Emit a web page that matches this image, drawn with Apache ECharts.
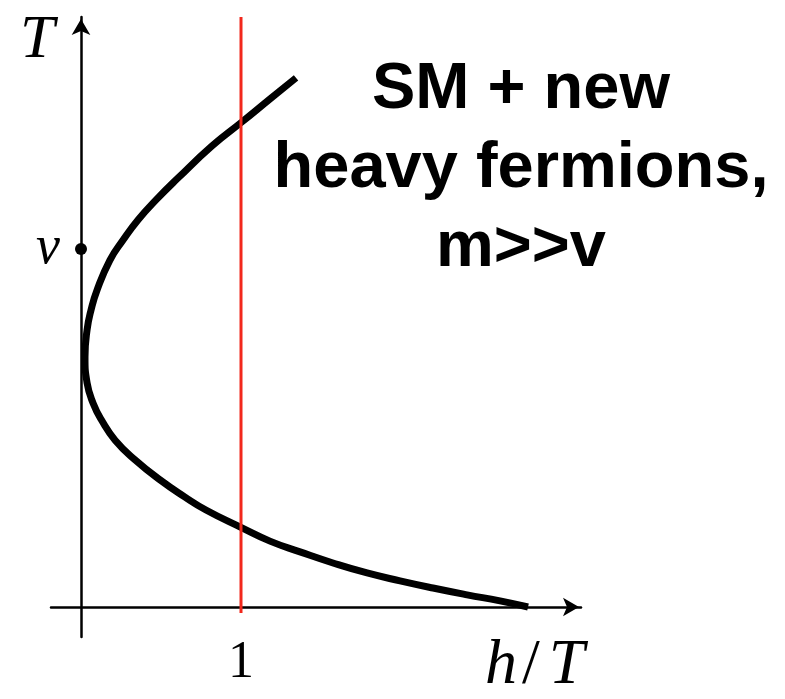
<!DOCTYPE html>
<html>
<head>
<meta charset="utf-8">
<script src="https://cdn.jsdelivr.net/npm/echarts@6/dist/echarts.min.js"></script>
<style>
  html, body { margin: 0; padding: 0; background: #ffffff; }
  #main { width: 785px; height: 699px; }
</style>
</head>
<body>
<div id="main"></div>
<script>
// Trajectory of the electroweak minimum: h/T against T (T in units of v)
const hOverT = [2.794, 2.619, 2.413, 2.200, 1.994, 1.788, 1.575, 1.369, 1.181, 1.006, 0.781, 0.650, 0.494, 0.338, 0.213, 0.131, 0.075, 0.038, 0.025, 0.038, 0.063, 0.100, 0.181, 0.263, 0.356, 0.469, 0.606, 0.819, 1.006, 1.181, 1.344];
const temperature = [0.000, 0.017, 0.034, 0.053, 0.073, 0.095, 0.123, 0.154, 0.184, 0.221, 0.271, 0.307, 0.355, 0.411, 0.466, 0.520, 0.570, 0.626, 0.698, 0.774, 0.830, 0.885, 0.969, 1.025, 1.081, 1.137, 1.198, 1.288, 1.355, 1.419, 1.478];

// Reference line h/T = 1 (strong first-order criterion)
const criterionH = [1, 1];
const criterionT = [-0.017, 1.648];

// Marked point on the T axis
const markedT = 1;
const xTickValues = [1];
const xTickLabels = ['1'];
const yTickValues = [1];
const yTickLabels = ['v'];

const annotationLines = ['SM + new', 'heavy fermions,', 'm>>v'];

const curve = hOverT.map((h, i) => [h, temperature[i]]);
const criterion = criterionH.map((h, i) => [h, criterionT[i]]);

const chart = echarts.init(document.getElementById('main'), null, { renderer: 'canvas' });

const serif = '"Liberation Serif", "DejaVu Serif", serif';
const sans = '"Liberation Sans", Arial, Helvetica, sans-serif';

const arrowAxisLine = {
  onZero: true,
  symbol: ['none', 'arrow'],
  symbolSize: [14, 16],
  symbolOffset: [0, -2],
  lineStyle: { color: '#000000', width: 2.5 }
};

chart.setOption({
  backgroundColor: '#ffffff',
  animation: false,
  grid: { left: 51, right: 204, top: 17, bottom: 62, containLabel: false, outerBoundsMode: 'none' },
  xAxis: {
    type: 'value',
    min: -0.1875,
    max: 3.125,
    splitLine: { show: false },
    axisTick: { show: false },
    axisLine: arrowAxisLine,
    axisLabel: {
      customValues: xTickValues,
      formatter: (v) => xTickLabels[xTickValues.indexOf(v)] || '',
      color: '#000000',
      fontFamily: serif,
      fontSize: 52,
      margin: 0
    }
  },
  yAxis: {
    type: 'value',
    min: -0.0838,
    max: 1.648,
    splitLine: { show: false },
    axisTick: { show: false },
    axisLine: arrowAxisLine,
    axisLabel: {
      customValues: yTickValues,
      formatter: (v) => yTickLabels[yTickValues.indexOf(v)] || '',
      color: '#000000',
      fontFamily: serif,
      fontStyle: 'italic',
      fontSize: 54,
      margin: -9
    }
  },
  series: [
    {
      type: 'line',
      data: curve,
      smooth: 0.5,
      symbol: 'none',
      lineStyle: { color: '#000000', width: 7, cap: 'butt' },
      z: 3
    },
    {
      type: 'line',
      data: criterion,
      symbol: 'none',
      lineStyle: { color: '#f2281c', width: 3 },
      z: 4
    },
    {
      type: 'scatter',
      data: [[0, markedT]],
      symbol: 'circle',
      symbolSize: 12,
      itemStyle: { color: '#000000', opacity: 1 },
      z: 5
    }
  ],
  graphic: [
    {
      type: 'text',
      left: 20,
      top: 10,
      style: { text: 'T', font: 'italic 62px ' + serif, fill: '#000000' }
    },
    {
      type: 'text',
      left: 485,
      top: 634,
      style: {
        text: '{i|h}{r|/}{i|T}',
        rich: {
          i: { font: 'italic 64px ' + serif, fill: '#000000' },
          r: { font: '64px ' + serif, fill: '#000000', padding: [0, 9, 0, 5] }
        }
      }
    },
    ...annotationLines.map((line, i) => ({
      type: 'text',
      x: 521,
      y: 90 + i * 79,
      style: {
        text: line,
        font: 'bold 65px ' + sans,
        fill: '#000000',
        align: 'center',
        verticalAlign: 'middle'
      }
    }))
  ]
});
</script>
</body>
</html>
